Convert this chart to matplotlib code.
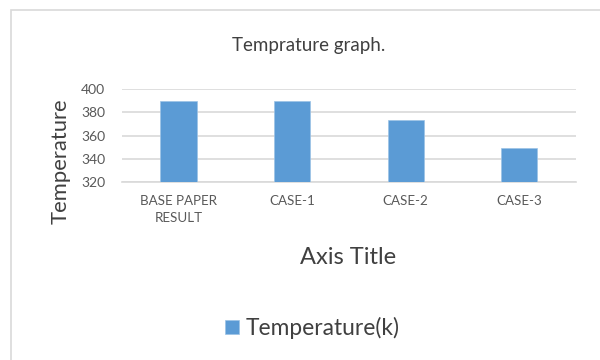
import matplotlib.pyplot as plt
from matplotlib.patches import Rectangle

plt.rcParams['font.family'] = ['Lato', 'DejaVu Sans']

# Temperature per case
categories = ["BASE PAPER\nRESULT", "CASE-1", "CASE-2", "CASE-3"]
temperature = [390, 390, 373, 349]
y_ticks = [320, 340, 360, 380, 400]

bar_color = "#5b9bd5"
grid_color = "#d9d9d9"
text_color = "#595959"

fig = plt.figure(figsize=(6, 3.6), dpi=100)
ax = fig.add_axes([0.203, 0.494, 0.757, 0.259])

x = range(len(categories))
ax.bar(x, temperature, width=0.32, color=bar_color, zorder=3,
       edgecolor="#9cc3e6", linewidth=0.5, label="Temperature(k)")

ax.set_ylim(320, 400)
ax.set_xlim(-0.5, len(categories) - 0.5)
ax.set_yticks(y_ticks)
ax.set_xticks(list(x))
ax.set_xticklabels(categories, linespacing=1.5)
ax.tick_params(axis="both", length=0, labelsize=9.6, colors=text_color)
ax.tick_params(axis="x", pad=9)
ax.tick_params(axis="y", pad=12)
for lbl in ax.get_yticklabels():
    lbl.set_fontsize(10)

ax.grid(axis="y", color=grid_color, linewidth=1.2, zorder=0)
for side in ["top", "right", "left"]:
    ax.spines[side].set_visible(False)
ax.spines["bottom"].set_color(grid_color)
ax.spines["bottom"].set_linewidth(1.2)

# titles
fig.text(309 / 600, 1 - 45 / 360, "Temprature graph.", ha="center", va="center",
         fontsize=13.5, color="#404040")
fig.text(61 / 600, 1 - 161 / 360, "Temperature", rotation=90, ha="center",
         va="center", fontsize=15.8, color="#404040")
fig.text(348 / 600, 1 - 257 / 360, "Axis Title", ha="center", va="center",
         fontsize=17, color="#404040")

# legend at the bottom
fig.legend(loc="center", bbox_to_anchor=(312 / 600, 1 - 328 / 360), frameon=False,
           fontsize=16.4, labelcolor="#404040", handlelength=0.62, handleheight=0.62,
           handletextpad=0.3)

# chart border
fig.patches.append(Rectangle((11 / 600, -0.05), 1.0, 1 - 10 / 360 + 0.05,
                             transform=fig.transFigure, fill=False,
                             edgecolor=grid_color, linewidth=1.2))

fig.savefig("out.png", dpi=100, facecolor="white")
